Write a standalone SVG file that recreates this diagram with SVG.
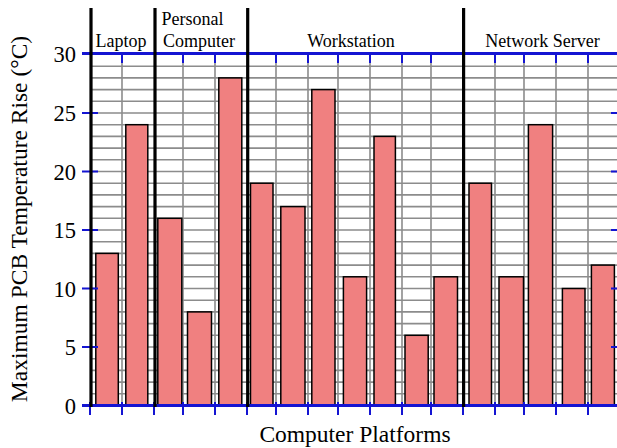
<svg xmlns="http://www.w3.org/2000/svg" width="617" height="448" viewBox="0 0 617 448">
  <style>
    .grid { stroke: #8c8c8c; stroke-width: 1.6; fill: none; }
    .bar { fill: #f08080; stroke: #000; stroke-width: 1.5; }
    .axis { stroke: #1414d2; stroke-width: 3; fill: none; }
    .tick { stroke: #1414d2; stroke-width: 2; fill: none; }
    .sep { stroke: #000; stroke-width: 3.2; fill: none; }
    .num { font-family: "Liberation Serif", "Times New Roman", serif; font-size: 22.5px; fill: #000; text-anchor: end; }
    .title { font-family: "Liberation Serif", "Times New Roman", serif; font-size: 23.5px; fill: #000; text-anchor: middle; }
    .cat { font-family: "Liberation Serif", "Times New Roman", serif; font-size: 18px; fill: #000; }
  </style>

  <rect x="0" y="0" width="617" height="448" fill="#fff"/>

  <!-- background grid: one horizontal line per degree, one vertical line per platform column -->
  <g id="grid" class="grid">
    <path d="M91 393.8H617M91 382.1H617M91 370.4H617M91 358.7H617M91 335.3H617M91 323.6H617M91 311.9H617M91 300.2H617M91 276.8H617M91 265.1H617M91 253.4H617M91 241.7H617M91 218.3H617M91 206.6H617M91 194.9H617M91 183.2H617M91 159.8H617M91 148.1H617M91 136.4H617M91 124.7H617M91 101.3H617M91 89.6H617M91 77.9H617M91 66.2H617M91 347H617M91 288.5H617M91 230H617M91 171.5H617M91 113H617"/>
    <path d="M122 53V405M183 53V405M215 53V405M276 53V405M308 53V405M338 53V405M370 53V405M402 53V405M431 53V405M495 53V405M524 53V405M556 53V405M588 53V405"/>
  </g>

  <!-- bars: temperature rise per system -->
  <g id="bars">
    <rect id="bar-laptop-1" class="bar" x="95.8" y="253.4" width="22.5" height="152.1"/>
    <rect id="bar-laptop-2" class="bar" x="125.8" y="124.7" width="22" height="280.8"/>
    <rect id="bar-pc-1" class="bar" x="157.8" y="218.3" width="24" height="187.2"/>
    <rect id="bar-pc-2" class="bar" x="187.5" y="311.9" width="24" height="93.6"/>
    <rect id="bar-pc-3" class="bar" x="218.8" y="77.9" width="23" height="327.6"/>
    <rect id="bar-ws-1" class="bar" x="250.5" y="183.2" width="22.5" height="222.3"/>
    <rect id="bar-ws-2" class="bar" x="280.8" y="206.6" width="24.2" height="198.9"/>
    <rect id="bar-ws-3" class="bar" x="311.8" y="89.6" width="23.2" height="315.9"/>
    <rect id="bar-ws-4" class="bar" x="343.4" y="276.8" width="23.2" height="128.7"/>
    <rect id="bar-ws-5" class="bar" x="374" y="136.4" width="21.4" height="269.1"/>
    <rect id="bar-ws-6" class="bar" x="405" y="335.3" width="23.2" height="70.2"/>
    <rect id="bar-ws-7" class="bar" x="434" y="276.8" width="23.5" height="128.7"/>
    <rect id="bar-ns-1" class="bar" x="469" y="183.2" width="22.5" height="222.3"/>
    <rect id="bar-ns-2" class="bar" x="499" y="276.8" width="24.5" height="128.7"/>
    <rect id="bar-ns-3" class="bar" x="528.4" y="124.7" width="24.2" height="280.8"/>
    <rect id="bar-ns-4" class="bar" x="562.4" y="288.5" width="22.6" height="117"/>
    <rect id="bar-ns-5" class="bar" x="591.4" y="265.1" width="23" height="140.4"/>
  </g>

  <!-- axes and tick marks -->
  <g id="axes">
    <path class="axis" d="M82 53.5H617M82 405.5H617"/>
    <path class="tick" d="M82 347H98M82 288.5H98M82 230H98M82 171.5H98M82 113H98"/>
    <path class="tick" d="M611 347H617M611 288.5H617M611 230H617M611 171.5H617M611 113H617"/>
    <path class="tick" d="M122 53V63M183 53V63M215 53V63M276 53V63M308 53V63M338 53V63M370 53V63M402 53V63M431 53V63M495 53V63M524 53V63M556 53V63M588 53V63"/>
    <path class="tick" d="M90 402V415M122 402V415M154 402V415M183 402V415M215 402V415M247 402V415M276 402V415M308 402V415M338 402V415M370 402V415M402 402V415M431 402V415M463 402V415M495 402V415M524 402V415M556 402V415M588 402V415"/>
  </g>

  <!-- platform separators -->
  <g id="separators" class="sep">
    <path d="M91 8V407M155 8V407M247.7 8V407M463.6 8V407"/>
  </g>

  <!-- value labels -->
  <g id="y-labels">
    <text class="num" x="76" y="413.5">0</text>
    <text class="num" x="76" y="355">5</text>
    <text class="num" x="76" y="296.5">10</text>
    <text class="num" x="76" y="238">15</text>
    <text class="num" x="76" y="179.5">20</text>
    <text class="num" x="76" y="121">25</text>
    <text class="num" x="76" y="62">30</text>
  </g>

  <!-- platform headings -->
  <g id="categories">
    <text class="cat" x="121" y="47" text-anchor="middle">Laptop</text>
    <text class="cat" x="161.5" y="25">Personal</text>
    <text class="cat" x="163" y="47">Computer</text>
    <text class="cat" x="351" y="47" text-anchor="middle">Workstation</text>
    <text class="cat" x="542.5" y="47" text-anchor="middle">Network Server</text>
  </g>

  <!-- axis titles -->
  <g id="titles">
    <text class="title" x="355" y="442">Computer Platforms</text>
    <text class="title" transform="translate(27 219) rotate(-90)" x="0" y="0">Maximum PCB Temperature Rise (°C)</text>
  </g>
</svg>
